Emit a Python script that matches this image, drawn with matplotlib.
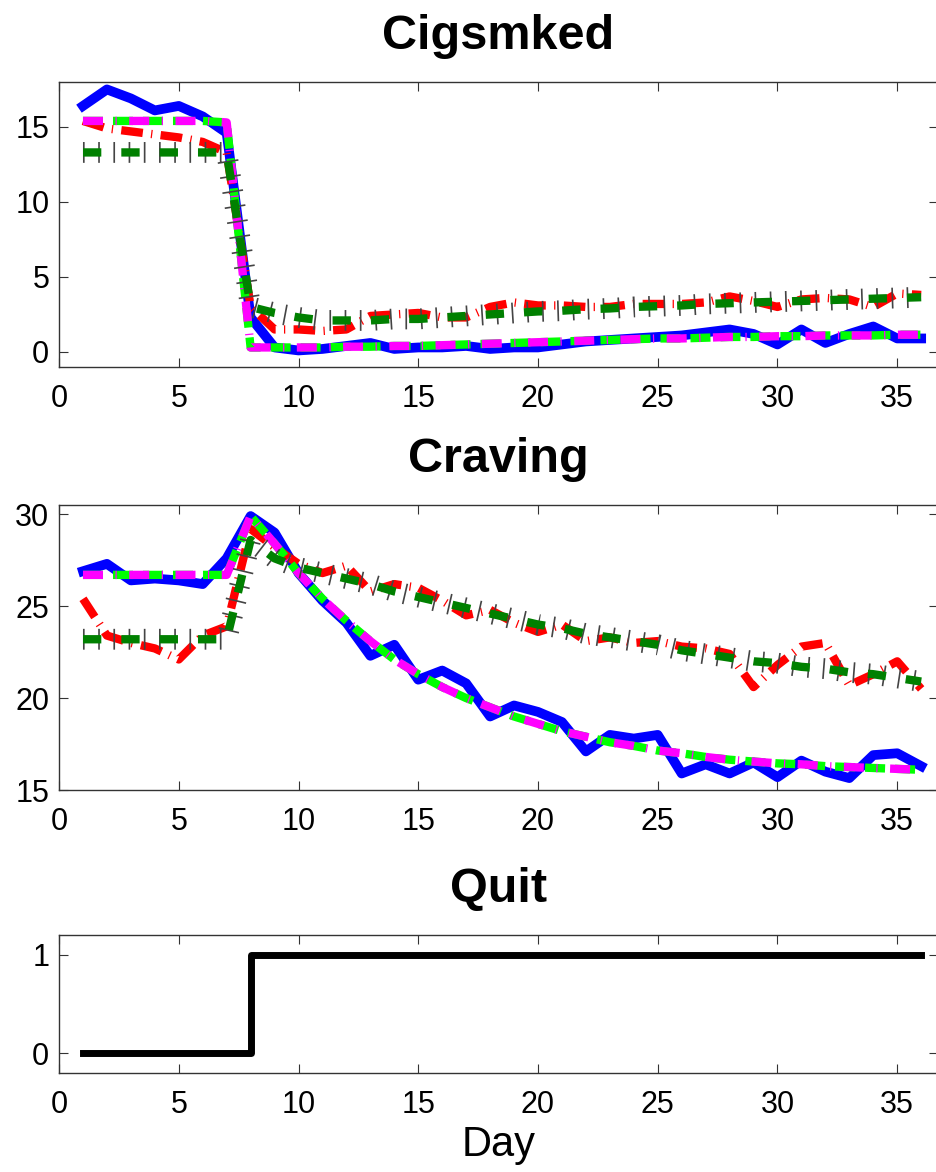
import numpy as np
import matplotlib.pyplot as plt

plt.rcParams['font.family'] = ['Liberation Sans', 'DejaVu Sans']

# days of the study
days = np.arange(1, 37)

# Cigsmked
cig_obs_a = [16.4, 17.5, 16.9, 16.1, 16.4, 15.7, 14.6, 2.3, 0.3, 0.1, 0.2, 0.4,
             0.6, 0.2, 0.3, 0.3, 0.4, 0.2, 0.3, 0.3, 0.5, 0.7, 0.8, 0.9,
             1.0, 1.1, 1.3, 1.5, 1.2, 0.5, 1.5, 0.6, 1.2, 1.7, 0.9, 0.9]
cig_obs_b = [15.4, 14.9, 14.7, 14.5, 14.3, 14.0, 13.3, 3.0, 1.5, 1.5, 1.4, 1.5,
             2.4, 2.5, 2.6, 2.3, 2.3, 3.0, 3.3, 3.1, 3.1, 3.0, 3.0, 3.2,
             3.2, 3.2, 3.3, 3.7, 3.4, 3.0, 3.5, 3.6, 3.5, 3.0, 3.9, 3.8]
cig_fit_a = [15.4, 15.4, 15.4, 15.4, 15.4, 15.4, 15.3, 0.3, 0.3, 0.3, 0.3, 0.35,
             0.35, 0.4, 0.4, 0.45, 0.5, 0.55, 0.6, 0.65, 0.7, 0.75, 0.8, 0.85,
             0.9, 0.9, 0.95, 1.0, 1.0, 1.05, 1.05, 1.1, 1.1, 1.1, 1.15, 1.15]
cig_fit_b = [13.3, 13.3, 13.3, 13.3, 13.3, 13.3, 13.3, 3.0, 2.6, 2.3, 2.1, 2.1,
             2.1, 2.2, 2.2, 2.3, 2.4, 2.5, 2.6, 2.7, 2.75, 2.85, 2.9, 3.0,
             3.05, 3.1, 3.2, 3.25, 3.3, 3.35, 3.4, 3.45, 3.5, 3.55, 3.6, 3.65]

# Craving
crav_obs_a = [26.9, 27.3, 26.4, 26.5, 26.4, 26.2, 27.6, 29.9, 29.0, 26.8, 25.3, 24.1,
              22.3, 22.9, 21.0, 21.5, 20.8, 19.0, 19.6, 19.25, 18.7, 17.1, 18.0, 17.8,
              18.0, 15.9, 16.4, 15.9, 16.5, 15.7, 16.6, 16.0, 15.65, 16.9, 17.0, 16.3]
crav_obs_b = [25.4, 23.4, 23.0, 22.7, 22.1, 23.4, 23.9, 29.2, 28.2, 27.3, 26.8, 27.2,
              25.8, 26.2, 26.0, 25.3, 24.5, 24.8, 24.1, 23.6, 24.0, 23.1, 23.3, 23.0,
              23.1, 22.8, 22.7, 22.4, 20.6, 21.8, 22.8, 23.0, 20.7, 21.3, 22.0, 20.5]
crav_fit_a = [26.7, 26.7, 26.7, 26.7, 26.7, 26.7, 26.7, 29.9, 28.4, 26.8, 25.4, 24.2,
              23.1, 22.1, 21.3, 20.6, 20.0, 19.5, 19.0, 18.6, 18.2, 17.9, 17.6, 17.4,
              17.15, 17.0, 16.8, 16.65, 16.55, 16.45, 16.4, 16.3, 16.25, 16.2, 16.15, 16.1]
crav_fit_b = [23.2, 23.2, 23.2, 23.2, 23.2, 23.2, 23.2, 28.6, 27.6, 27.1, 26.8, 26.5,
              26.2, 25.8, 25.5, 25.2, 24.9, 24.6, 24.3, 24.0, 23.8, 23.5, 23.3, 23.1,
              22.9, 22.6, 22.4, 22.2, 22.0, 21.9, 21.7, 21.6, 21.4, 21.3, 21.1, 20.9]

# Quit
quit = [0] * 7 + [1] * 29


def style_axes(ax, title, yticks, ylim):
    ax.set_xlim(0, 36.7)
    ax.set_ylim(*ylim)
    ax.set_xticks(range(0, 36, 5))
    ax.set_yticks(yticks)
    ax.tick_params(direction='in', top=True, right=True, length=6.5, width=0.8,
                   labelsize=22, color='#333333')
    ax.tick_params(axis='x', pad=12)
    ax.tick_params(axis='y', pad=7)
    for s in ax.spines.values():
        s.set_color('#333333')
        s.set_linewidth(1.0)
    ax.set_title(title, fontsize=35, fontweight='bold', pad=24)


def draw_panel(ax, obs_a, obs_b, fit_a, fit_b):
    ax.plot(days, obs_a, color='blue', lw=7, solid_joinstyle='round')
    ax.plot(days, obs_b, color='red', lw=6, dashes=(2.6, 1.0, 0.15, 1.0))
    ax.plot(days, fit_a, color='#00ff00', lw=6, dashes=(2.4, 1.2))
    ax.plot(days, fit_a, color='magenta', lw=6, dashes=(2.4, 1.5, 0.15, 1.5))
    ax.plot(days, fit_b, color='#444444', lw=15, dashes=(0.08, 0.65))
    ax.plot(days, fit_b, color='green', lw=6, dashes=(2.2, 2.4))


fig = plt.figure(figsize=(9.37, 11.72), dpi=100)
ax1 = fig.add_axes([0.063, 0.6869, 0.938, 0.2432])
ax2 = fig.add_axes([0.063, 0.3259, 0.938, 0.2432])
ax3 = fig.add_axes([0.063, 0.0845, 0.938, 0.1177])

draw_panel(ax1, cig_obs_a, cig_obs_b, cig_fit_a, cig_fit_b)
style_axes(ax1, 'Cigsmked', [0, 5, 10, 15], (-1, 18))

draw_panel(ax2, crav_obs_a, crav_obs_b, crav_fit_a, crav_fit_b)
style_axes(ax2, 'Craving', [15, 20, 25, 30], (15, 30.5))

ax3.plot(days, quit, color='black', lw=5, drawstyle='steps-post')
style_axes(ax3, 'Quit', [0, 1], (-0.2, 1.2))
ax3.set_xlabel('Day', fontsize=30, labelpad=4)

fig.savefig('out.png', dpi=100)
